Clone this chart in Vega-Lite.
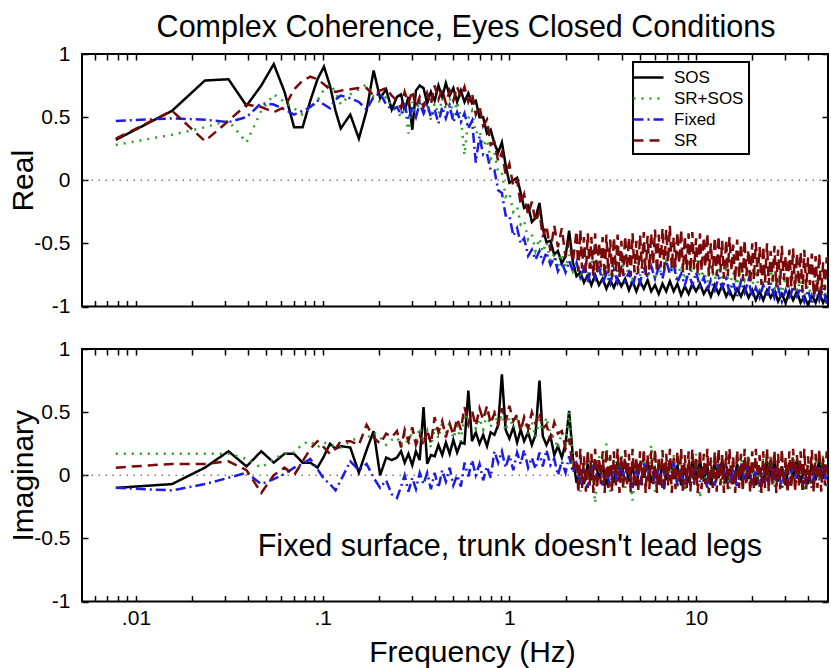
{
  "$schema": "https://vega.github.io/schema/vega-lite/v6.json",
  "background": "white",
  "padding": {"left": 7, "top": 11, "right": 3, "bottom": 4},
  "config": {
    "font": "Liberation Sans",
    "view": {"stroke": "black", "strokeWidth": 2},
    "axis": {
      "grid": false, "domain": false, "tickColor": "black", "tickWidth": 1.5, "tickSize": -6,
      "labelColor": "black", "titleColor": "black", "labelFont": "Liberation Sans", "titleFont": "Liberation Sans",
      "titleFontWeight": "normal", "labelFontSize": 21, "titleFontSize": 30, "labelOverlap": false, "labelFlush": false
    },
    "legend": {
      "orient": "none", "legendX": 551, "legendY": 8, "symbolType": "M-1.67,0H1.67", "symbolSize": 324,
      "symbolStrokeWidth": 2.5, "labelFontSize": 17, "labelFont": "Liberation Sans", "labelColor": "black",
      "strokeColor": "black", "strokeWidth": 2, "padding": 5, "rowPadding": 2, "fillColor": "white", "labelOffset": 15
    }
  },
  "datasets": {
    "re": [
      {"f":0.0078,"a":0.32,"b":0.28,"c":0.47,"d":0.33},
      {"f":0.0156,"a":0.55,"b":0.36,"c":0.49,"d":0.55},
      {"f":0.0234,"a":0.79,"b":0.42,"c":0.48,"d":0.31},
      {"f":0.0313,"a":0.8,"b":0.47,"c":0.46,"d":0.47},
      {"f":0.0391,"a":0.59,"b":0.3,"c":0.5,"d":0.6},
      {"f":0.0469,"a":0.75,"b":0.55,"c":0.61,"d":0.58},
      {"f":0.0547,"a":0.92,"b":0.68,"c":0.6,"d":0.54},
      {"f":0.0625,"a":0.7,"b":0.62,"c":0.56,"d":0.58},
      {"f":0.0703,"a":0.42,"b":0.57,"c":0.52,"d":0.72},
      {"f":0.0781,"a":0.42,"b":0.52,"c":0.55,"d":0.79},
      {"f":0.0859,"a":0.63,"b":0.57,"c":0.58,"d":0.82},
      {"f":0.0938,"a":0.8,"b":0.63,"c":0.63,"d":0.8},
      {"f":0.1016,"a":0.9,"b":0.72,"c":0.6,"d":0.76},
      {"f":0.1094,"a":0.75,"b":0.76,"c":0.57,"d":0.72},
      {"f":0.1172,"a":0.55,"b":0.7,"c":0.64,"d":0.7},
      {"f":0.125,"a":0.41,"b":0.6,"c":0.67,"d":0.71},
      {"f":0.1406,"a":0.52,"b":0.68,"c":0.65,"d":0.72},
      {"f":0.1563,"a":0.33,"b":0.72,"c":0.62,"d":0.73},
      {"f":0.1719,"a":0.55,"b":0.76,"c":0.56,"d":0.73},
      {"f":0.1875,"a":0.87,"b":0.66,"c":0.66,"d":0.67},
      {"f":0.2031,"a":0.65,"b":0.62,"c":0.69,"d":0.71},
      {"f":0.2188,"a":0.72,"b":0.66,"c":0.6,"d":0.73},
      {"f":0.2344,"a":0.56,"b":0.58,"c":0.56,"d":0.67},
      {"f":0.25,"a":0.66,"b":0.55,"c":0.58,"d":0.63},
      {"f":0.263,"a":0.68,"b":0.5,"c":0.52,"d":0.57},
      {"f":0.275,"a":0.55,"b":0.58,"c":0.59,"d":0.7},
      {"f":0.288,"a":0.66,"b":0.37,"c":0.48,"d":0.61},
      {"f":0.302,"a":0.4,"b":0.62,"c":0.58,"d":0.71},
      {"f":0.316,"a":0.71,"b":0.51,"c":0.5,"d":0.58},
      {"f":0.331,"a":0.75,"b":0.64,"c":0.61,"d":0.66},
      {"f":0.347,"a":0.73,"b":0.52,"c":0.53,"d":0.58},
      {"f":0.363,"a":0.61,"b":0.6,"c":0.61,"d":0.69},
      {"f":0.38,"a":0.7,"b":0.48,"c":0.5,"d":0.6},
      {"f":0.398,"a":0.63,"b":0.61,"c":0.56,"d":0.75},
      {"f":0.417,"a":0.75,"b":0.52,"c":0.45,"d":0.64},
      {"f":0.437,"a":0.66,"b":0.65,"c":0.58,"d":0.72},
      {"f":0.457,"a":0.77,"b":0.56,"c":0.49,"d":0.61},
      {"f":0.479,"a":0.67,"b":0.65,"c":0.59,"d":0.71},
      {"f":0.501,"a":0.73,"b":0.52,"c":0.46,"d":0.63},
      {"f":0.525,"a":0.62,"b":0.62,"c":0.54,"d":0.74},
      {"f":0.55,"a":0.71,"b":0.5,"c":0.46,"d":0.66},
      {"f":0.575,"a":0.62,"b":0.2,"c":0.53,"d":0.74},
      {"f":0.603,"a":0.69,"b":0.49,"c":0.41,"d":0.62},
      {"f":0.631,"a":0.61,"b":0.55,"c":0.47,"d":0.69},
      {"f":0.661,"a":0.63,"b":0.37,"c":0.14,"d":0.52},
      {"f":0.692,"a":0.5,"b":0.4,"c":0.35,"d":0.59},
      {"f":0.724,"a":0.5,"b":0.27,"c":0.2,"d":0.43},
      {"f":0.759,"a":0.37,"b":0.32,"c":0.21,"d":0.48},
      {"f":0.794,"a":0.4,"b":0.17,"c":0.08,"d":0.28},
      {"f":0.832,"a":0.29,"b":0.22,"c":0.08,"d":0.3},
      {"f":0.871,"a":0.22,"b":0.06,"c":-0.08,"d":0.15},
      {"f":0.912,"a":0.3,"b":0.06,"c":-0.1,"d":0.22},
      {"f":0.955,"a":0.12,"b":-0.13,"c":-0.28,"d":0.05},
      {"f":1.0,"a":-0.02,"b":-0.1,"c":-0.28,"d":0.13},
      {"f":1.05,"a":0.0,"b":-0.25,"c":-0.44,"d":-0.05},
      {"f":1.1,"a":0.02,"b":-0.21,"c":-0.38,"d":0.0},
      {"f":1.15,"a":-0.1,"b":-0.35,"c":-0.5,"d":-0.19},
      {"f":1.2,"a":-0.22,"b":-0.32,"c":-0.46,"d":-0.11},
      {"f":1.26,"a":-0.2,"b":-0.47,"c":-0.6,"d":-0.27},
      {"f":1.32,"a":-0.33,"b":-0.43,"c":-0.55,"d":-0.17},
      {"f":1.38,"a":-0.3,"b":-0.56,"c":-0.63,"d":-0.33},
      {"f":1.45,"a":-0.18,"b":-0.46,"c":-0.56,"d":-0.25},
      {"f":1.51,"a":-0.38,"b":-0.57,"c":-0.65,"d":-0.45},
      {"f":1.58,"a":-0.49,"b":-0.49,"c":-0.57,"d":-0.36},
      {"f":1.66,"a":-0.48,"b":-0.64,"c":-0.67,"d":-0.56},
      {"f":1.74,"a":-0.59,"b":-0.58,"c":-0.61,"d":-0.36},
      {"f":1.82,"a":-0.56,"b":-0.68,"c":-0.72,"d":-0.53},
      {"f":1.91,"a":-0.66,"b":-0.58,"c":-0.65,"d":-0.38},
      {"f":2.0,"a":-0.6,"b":-0.69,"c":-0.73,"d":-0.61},
      {"f":2.09,"a":-0.4,"b":-0.59,"c":-0.64,"d":-0.48},
      {"f":2.19,"a":-0.65,"b":-0.72,"c":-0.72,"d":-0.65},
      {"f":2.29,"a":-0.76,"b":-0.65,"c":-0.65,"d":-0.4},
      {"f":2.4,"a":-0.73,"b":-0.78,"c":-0.77,"d":-0.39},
      {"f":2.51,"a":-0.81,"b":-0.67,"c":-0.7,"d":-0.45},
      {"f":2.63,"a":-0.75,"b":-0.76,"c":-0.81,"d":-0.42},
      {"f":2.75,"a":-0.83,"b":-0.63,"c":-0.69,"d":-0.45},
      {"f":2.88,"a":-0.75,"b":-0.72,"c":-0.78,"d":-0.42},
      {"f":3.02,"a":-0.83,"b":-0.63,"c":-0.68,"d":-0.49},
      {"f":3.16,"a":-0.78,"b":-0.76,"c":-0.82,"d":-0.45},
      {"f":3.31,"a":-0.86,"b":-0.66,"c":-0.74,"d":-0.43},
      {"f":3.47,"a":-0.79,"b":-0.78,"c":-0.82,"d":-0.47},
      {"f":3.63,"a":-0.85,"b":-0.64,"c":-0.71,"d":-0.45},
      {"f":3.8,"a":-0.78,"b":-0.73,"c":-0.81,"d":-0.43},
      {"f":3.98,"a":-0.84,"b":-0.62,"c":-0.7,"d":-0.48},
      {"f":4.17,"a":-0.78,"b":-0.76,"c":-0.8,"d":-0.44},
      {"f":4.37,"a":-0.87,"b":-0.69,"c":-0.73,"d":-0.45},
      {"f":4.57,"a":-0.8,"b":-0.78,"c":-0.84,"d":-0.42},
      {"f":4.79,"a":-0.88,"b":-0.65,"c":-0.73,"d":-0.48},
      {"f":5.01,"a":-0.8,"b":-0.76,"c":-0.81,"d":-0.43},
      {"f":5.25,"a":-0.86,"b":-0.63,"c":-0.69,"d":-0.41},
      {"f":5.5,"a":-0.79,"b":-0.75,"c":-0.77,"d":-0.44},
      {"f":5.75,"a":-0.88,"b":-0.66,"c":-0.68,"d":-0.42},
      {"f":6.03,"a":-0.83,"b":-0.79,"c":-0.78,"d":-0.39},
      {"f":6.31,"a":-0.9,"b":-0.68,"c":-0.69,"d":-0.43},
      {"f":6.61,"a":-0.82,"b":-0.77,"c":-0.78,"d":-0.38},
      {"f":6.92,"a":-0.88,"b":-0.64,"c":-0.64,"d":-0.39},
      {"f":7.24,"a":-0.8,"b":-0.73,"c":-0.74,"d":-0.36},
      {"f":7.59,"a":-0.88,"b":-0.64,"c":-0.67,"d":-0.45},
      {"f":7.94,"a":-0.82,"b":-0.77,"c":-0.81,"d":-0.41},
      {"f":8.32,"a":-0.91,"b":-0.67,"c":-0.74,"d":-0.39},
      {"f":8.71,"a":-0.84,"b":-0.79,"c":-0.83,"d":-0.44},
      {"f":9.12,"a":-0.9,"b":-0.65,"c":-0.73,"d":-0.42},
      {"f":9.55,"a":-0.82,"b":-0.74,"c":-0.83,"d":-0.41},
      {"f":10.0,"a":-0.88,"b":-0.63,"c":-0.73,"d":-0.46},
      {"f":10.5,"a":-0.82,"b":-0.77,"c":-0.84,"d":-0.42},
      {"f":11.0,"a":-0.9,"b":-0.72,"c":-0.77,"d":-0.45},
      {"f":11.5,"a":-0.85,"b":-0.81,"c":-0.88,"d":-0.42},
      {"f":12.0,"a":-0.92,"b":-0.68,"c":-0.79,"d":-0.5},
      {"f":12.6,"a":-0.83,"b":-0.79,"c":-0.87,"d":-0.45},
      {"f":13.2,"a":-0.9,"b":-0.68,"c":-0.77,"d":-0.44},
      {"f":13.8,"a":-0.83,"b":-0.8,"c":-0.85,"d":-0.48},
      {"f":14.5,"a":-0.92,"b":-0.71,"c":-0.78,"d":-0.47},
      {"f":15.1,"a":-0.87,"b":-0.84,"c":-0.89,"d":-0.45},
      {"f":15.8,"a":-0.94,"b":-0.73,"c":-0.81,"d":-0.51},
      {"f":16.6,"a":-0.86,"b":-0.83,"c":-0.92,"d":-0.47},
      {"f":17.4,"a":-0.92,"b":-0.7,"c":-0.8,"d":-0.5},
      {"f":18.2,"a":-0.85,"b":-0.79,"c":-0.89,"d":-0.47},
      {"f":19.1,"a":-0.93,"b":-0.7,"c":-0.79,"d":-0.55},
      {"f":20.0,"a":-0.87,"b":-0.83,"c":-0.93,"d":-0.5},
      {"f":20.9,"a":-0.95,"b":-0.75,"c":-0.85,"d":-0.49},
      {"f":21.9,"a":-0.88,"b":-0.87,"c":-0.93,"d":-0.53},
      {"f":22.9,"a":-0.95,"b":-0.73,"c":-0.83,"d":-0.52},
      {"f":24.0,"a":-0.87,"b":-0.82,"c":-0.92,"d":-0.5},
      {"f":25.1,"a":-0.93,"b":-0.71,"c":-0.81,"d":-0.56},
      {"f":26.3,"a":-0.87,"b":-0.86,"c":-0.93,"d":-0.52},
      {"f":27.5,"a":-0.96,"b":-0.8,"c":-0.85,"d":-0.55},
      {"f":28.8,"a":-0.9,"b":-0.89,"c":-0.96,"d":-0.52},
      {"f":30.2,"a":-0.97,"b":-0.76,"c":-0.87,"d":-0.6},
      {"f":31.6,"a":-0.88,"b":-0.87,"c":-0.95,"d":-0.55},
      {"f":33.1,"a":-0.95,"b":-0.76,"c":-0.84,"d":-0.54},
      {"f":34.7,"a":-0.88,"b":-0.88,"c":-0.92,"d":-0.58},
      {"f":36.3,"a":-0.97,"b":-0.79,"c":-0.85,"d":-0.57},
      {"f":38.0,"a":-0.92,"b":-0.92,"c":-0.96,"d":-0.55},
      {"f":39.8,"a":-0.99,"b":-0.83,"c":-0.87,"d":-0.61},
      {"f":41.7,"a":-0.91,"b":-0.92,"c":-0.98,"d":-0.58},
      {"f":43.7,"a":-0.97,"b":-0.79,"c":-0.86,"d":-0.6},
      {"f":45.7,"a":-0.89,"b":-0.88,"c":-0.95,"d":-0.58},
      {"f":47.9,"a":-0.97,"b":-0.81,"c":-0.85,"d":-0.65},
      {"f":50.1,"a":-0.91,"b":-0.94,"c":-0.98,"d":-0.61},
      {"f":2.34,"d":-0.72},{"f":2.45,"d":-0.7},{"f":2.57,"d":-0.73},{"f":2.69,"d":-0.7},{"f":2.82,"d":-0.76},
      {"f":2.95,"d":-0.74},{"f":3.09,"d":-0.69},{"f":3.24,"d":-0.77},{"f":3.39,"d":-0.74},{"f":3.55,"d":-0.76},
      {"f":3.72,"d":-0.72},{"f":3.89,"d":-0.77},{"f":4.07,"d":-0.75},{"f":4.27,"d":-0.7},{"f":4.47,"d":-0.76},
      {"f":4.68,"d":-0.73},{"f":4.9,"d":-0.74},{"f":5.13,"d":-0.7},{"f":5.37,"d":-0.75},{"f":5.62,"d":-0.71},
      {"f":5.89,"d":-0.67},{"f":6.17,"d":-0.73},{"f":6.46,"d":-0.69},{"f":6.76,"d":-0.7},{"f":7.08,"d":-0.65},
      {"f":7.41,"d":-0.7},{"f":7.76,"d":-0.69},{"f":8.13,"d":-0.66},{"f":8.51,"d":-0.73},{"f":8.91,"d":-0.71},
      {"f":9.33,"d":-0.73},{"f":9.77,"d":-0.7},{"f":10.2,"d":-0.75},{"f":10.7,"d":-0.72},{"f":11.2,"d":-0.69},
      {"f":11.7,"d":-0.76},{"f":12.3,"d":-0.74},{"f":12.9,"d":-0.76},{"f":13.5,"d":-0.73},{"f":14.1,"d":-0.78},
      {"f":14.8,"d":-0.76},{"f":15.5,"d":-0.72},{"f":16.2,"d":-0.8},{"f":17.0,"d":-0.77},{"f":17.8,"d":-0.8},
      {"f":18.6,"d":-0.76},{"f":19.5,"d":-0.82},{"f":20.4,"d":-0.79},{"f":21.4,"d":-0.76},{"f":22.4,"d":-0.83},
      {"f":23.4,"d":-0.81},{"f":24.5,"d":-0.83},{"f":25.7,"d":-0.8},{"f":26.9,"d":-0.85},{"f":28.2,"d":-0.83},
      {"f":29.5,"d":-0.79},{"f":30.9,"d":-0.87},{"f":32.4,"d":-0.84},{"f":33.9,"d":-0.87},{"f":35.5,"d":-0.83},
      {"f":37.2,"d":-0.89},{"f":38.9,"d":-0.86},{"f":40.7,"d":-0.83},{"f":42.7,"d":-0.91},{"f":44.7,"d":-0.88},
      {"f":46.8,"d":-0.91},{"f":49.0,"d":-0.87}
    ],
    "im": [
      {"f":0.0078,"a":-0.1,"b":0.17,"c":-0.1,"d":0.06},
      {"f":0.0156,"a":-0.07,"b":0.17,"c":-0.12,"d":0.09},
      {"f":0.0234,"a":0.06,"b":0.17,"c":-0.07,"d":0.09},
      {"f":0.0313,"a":0.19,"b":0.17,"c":-0.02,"d":0.11},
      {"f":0.0391,"a":0.07,"b":0.13,"c":0.02,"d":0.04},
      {"f":0.0469,"a":0.19,"b":0.06,"c":-0.07,"d":-0.14},
      {"f":0.0547,"a":0.1,"b":0.13,"c":-0.03,"d":0.0},
      {"f":0.0625,"a":0.17,"b":0.17,"c":0.01,"d":0.06},
      {"f":0.0703,"a":0.17,"b":0.18,"c":0.06,"d":0.0},
      {"f":0.0781,"a":0.1,"b":0.25,"c":0.09,"d":0.11},
      {"f":0.0859,"a":0.1,"b":0.27,"c":0.13,"d":0.21},
      {"f":0.0938,"a":0.06,"b":0.22,"c":0.05,"d":0.27},
      {"f":0.1016,"a":0.15,"b":0.26,"c":-0.03,"d":0.22},
      {"f":0.1094,"a":0.25,"b":0.24,"c":-0.07,"d":0.17},
      {"f":0.1172,"a":0.21,"b":0.23,"c":-0.12,"d":0.21},
      {"f":0.125,"a":0.23,"b":0.22,"c":-0.04,"d":0.27},
      {"f":0.1406,"a":0.22,"b":0.27,"c":0.11,"d":0.27},
      {"f":0.1563,"a":0.02,"b":0.3,"c":0.04,"d":0.24},
      {"f":0.1719,"a":0.2,"b":0.29,"c":0.09,"d":0.4},
      {"f":0.1875,"a":0.35,"b":0.34,"c":-0.02,"d":0.3},
      {"f":0.2031,"a":0.0,"b":0.3,"c":-0.1,"d":0.25},
      {"f":0.2188,"a":0.14,"b":0.24,"c":-0.04,"d":0.33},
      {"f":0.2344,"a":0.12,"b":0.28,"c":-0.15,"d":0.3},
      {"f":0.25,"a":0.14,"b":0.3,"c":-0.18,"d":0.35},
      {"f":0.263,"a":0.19,"b":0.24,"c":-0.09,"d":0.22},
      {"f":0.275,"a":0.1,"b":0.32,"c":0.0,"d":0.36},
      {"f":0.288,"a":0.17,"b":0.23,"c":-0.13,"d":0.27},
      {"f":0.302,"a":0.08,"b":0.36,"c":-0.02,"d":0.38},
      {"f":0.316,"a":0.19,"b":0.25,"c":-0.11,"d":0.24},
      {"f":0.331,"a":0.12,"b":0.38,"c":0.02,"d":0.32},
      {"f":0.347,"a":0.54,"b":0.26,"c":-0.07,"d":0.23},
      {"f":0.363,"a":0.09,"b":0.35,"c":0.02,"d":0.36},
      {"f":0.38,"a":0.16,"b":0.22,"c":-0.11,"d":0.25},
      {"f":0.398,"a":0.15,"b":0.38,"c":0.02,"d":0.46},
      {"f":0.417,"a":0.24,"b":0.29,"c":-0.1,"d":0.34},
      {"f":0.437,"a":0.16,"b":0.42,"c":0.04,"d":0.43},
      {"f":0.457,"a":0.26,"b":0.33,"c":-0.05,"d":0.3},
      {"f":0.479,"a":0.17,"b":0.42,"c":0.06,"d":0.41},
      {"f":0.501,"a":0.28,"b":0.29,"c":-0.08,"d":0.32},
      {"f":0.525,"a":0.18,"b":0.39,"c":0.0,"d":0.45},
      {"f":0.55,"a":0.26,"b":0.27,"c":-0.09,"d":0.36},
      {"f":0.575,"a":0.25,"b":0.49,"c":0.1,"d":0.54},
      {"f":0.603,"a":0.67,"b":0.4,"c":-0.01,"d":0.41},
      {"f":0.631,"a":0.27,"b":0.51,"c":0.12,"d":0.51},
      {"f":0.661,"a":0.34,"b":0.37,"c":0.0,"d":0.39},
      {"f":0.692,"a":0.25,"b":0.45,"c":0.09,"d":0.53},
      {"f":0.724,"a":0.32,"b":0.36,"c":-0.04,"d":0.44},
      {"f":0.759,"a":0.23,"b":0.49,"c":0.07,"d":0.55},
      {"f":0.794,"a":0.34,"b":0.38,"c":-0.02,"d":0.41},
      {"f":0.832,"a":0.32,"b":0.51,"c":0.19,"d":0.49},
      {"f":0.871,"a":0.4,"b":0.39,"c":0.1,"d":0.4},
      {"f":0.912,"a":0.8,"b":0.48,"c":0.19,"d":0.53},
      {"f":0.955,"a":0.36,"b":0.35,"c":0.06,"d":0.42},
      {"f":1.0,"a":0.29,"b":0.46,"c":0.16,"d":0.55},
      {"f":1.05,"a":0.38,"b":0.37,"c":0.04,"d":0.43},
      {"f":1.1,"a":0.26,"b":0.45,"c":0.18,"d":0.48},
      {"f":1.15,"a":0.36,"b":0.36,"c":0.09,"d":0.35},
      {"f":1.2,"a":0.27,"b":0.45,"c":0.2,"d":0.46},
      {"f":1.26,"a":0.34,"b":0.32,"c":0.06,"d":0.37},
      {"f":1.32,"a":0.24,"b":0.42,"c":0.14,"d":0.5},
      {"f":1.38,"a":0.32,"b":0.3,"c":0.05,"d":0.41},
      {"f":1.45,"a":0.75,"b":0.44,"c":0.18,"d":0.5},
      {"f":1.51,"a":0.31,"b":0.35,"c":0.07,"d":0.37},
      {"f":1.58,"a":0.24,"b":0.46,"c":0.2,"d":0.4},
      {"f":1.66,"a":0.31,"b":0.32,"c":0.08,"d":0.28},
      {"f":1.74,"a":0.16,"b":0.3,"c":0.13,"d":0.42},
      {"f":1.82,"a":0.23,"b":0.21,"c":0.0,"d":0.33},
      {"f":1.91,"a":0.14,"b":0.34,"c":0.11,"d":0.35},
      {"f":2.0,"a":0.25,"b":0.23,"c":0.02,"d":0.21},
      {"f":2.09,"a":0.51,"b":0.5,"c":0.15,"d":0.29},
      {"f":2.19,"a":0.14,"b":0.08,"c":0.02,"d":0.05},
      {"f":2.29,"a":-0.06,"b":0.11,"c":0.09,"d":0.19},
      {"f":2.4,"a":0.05,"b":-0.13,"c":-0.07,"d":0.21},
      {"f":2.51,"a":-0.07,"b":0.08,"c":0.05,"d":0.15},
      {"f":2.63,"a":0.09,"b":-0.09,"c":-0.1,"d":0.2},
      {"f":2.75,"a":-0.04,"b":0.15,"c":0.08,"d":0.17},
      {"f":2.88,"a":0.12,"b":-0.22,"c":-0.04,"d":0.21},
      {"f":3.02,"a":-0.03,"b":0.16,"c":0.1,"d":0.14},
      {"f":3.16,"a":0.08,"b":-0.09,"c":-0.08,"d":0.19},
      {"f":3.31,"a":-0.08,"b":0.25,"c":0.03,"d":0.21},
      {"f":3.47,"a":0.06,"b":-0.13,"c":-0.09,"d":0.16},
      {"f":3.63,"a":-0.06,"b":0.14,"c":0.07,"d":0.19},
      {"f":3.8,"a":0.11,"b":-0.04,"c":-0.06,"d":0.21},
      {"f":3.98,"a":-0.01,"b":0.17,"c":0.1,"d":0.15},
      {"f":4.17,"a":0.11,"b":-0.1,"c":-0.05,"d":0.2},
      {"f":4.37,"a":-0.05,"b":0.07,"c":0.06,"d":0.17},
      {"f":4.57,"a":0.07,"b":-0.2,"c":-0.1,"d":0.21},
      {"f":4.79,"a":-0.08,"b":0.13,"c":0.04,"d":0.14},
      {"f":5.01,"a":0.1,"b":-0.07,"c":-0.08,"d":0.19},
      {"f":5.25,"a":-0.02,"b":0.16,"c":0.09,"d":0.21},
      {"f":5.5,"a":0.12,"b":-0.06,"c":-0.03,"d":0.16},
      {"f":5.75,"a":-0.06,"b":0.24,"c":0.09,"d":0.19},
      {"f":6.03,"a":0.05,"b":-0.13,"c":-0.07,"d":0.21},
      {"f":6.31,"a":-0.07,"b":0.08,"c":0.05,"d":0.15},
      {"f":6.61,"a":0.09,"b":-0.09,"c":-0.1,"d":0.2},
      {"f":6.92,"a":-0.04,"b":0.15,"c":0.08,"d":0.17},
      {"f":7.24,"a":0.12,"b":-0.03,"c":-0.04,"d":0.21},
      {"f":7.59,"a":-0.03,"b":0.16,"c":0.1,"d":0.14},
      {"f":7.94,"a":0.08,"b":-0.09,"c":-0.08,"d":0.19},
      {"f":8.32,"a":-0.08,"b":0.1,"c":0.03,"d":0.21},
      {"f":8.71,"a":0.06,"b":-0.13,"c":-0.09,"d":0.16},
      {"f":9.12,"a":-0.06,"b":0.14,"c":0.07,"d":0.19},
      {"f":9.55,"a":0.11,"b":-0.04,"c":-0.06,"d":0.21},
      {"f":10.0,"a":-0.01,"b":0.17,"c":0.1,"d":0.15},
      {"f":10.5,"a":0.11,"b":-0.18,"c":-0.05,"d":0.2},
      {"f":11.0,"a":-0.05,"b":0.07,"c":0.06,"d":0.17},
      {"f":11.5,"a":0.07,"b":-0.12,"c":-0.1,"d":0.21},
      {"f":12.0,"a":-0.08,"b":0.13,"c":0.04,"d":0.14},
      {"f":12.6,"a":0.1,"b":-0.07,"c":-0.08,"d":0.19},
      {"f":13.2,"a":-0.02,"b":0.16,"c":0.09,"d":0.21},
      {"f":13.8,"a":0.12,"b":-0.06,"c":-0.03,"d":0.16},
      {"f":14.5,"a":-0.06,"b":0.11,"c":0.09,"d":0.19},
      {"f":15.1,"a":0.05,"b":-0.13,"c":-0.07,"d":0.21},
      {"f":15.8,"a":-0.07,"b":0.08,"c":0.05,"d":0.15},
      {"f":16.6,"a":0.09,"b":-0.09,"c":-0.1,"d":0.2},
      {"f":17.4,"a":-0.04,"b":0.15,"c":0.08,"d":0.17},
      {"f":18.2,"a":0.12,"b":-0.03,"c":-0.04,"d":0.21},
      {"f":19.1,"a":-0.03,"b":0.16,"c":0.1,"d":0.14},
      {"f":20.0,"a":0.08,"b":-0.09,"c":-0.08,"d":0.19},
      {"f":20.9,"a":-0.08,"b":0.1,"c":0.03,"d":0.21},
      {"f":21.9,"a":0.06,"b":-0.13,"c":-0.09,"d":0.16},
      {"f":22.9,"a":-0.06,"b":0.14,"c":0.07,"d":0.19},
      {"f":24.0,"a":0.11,"b":-0.04,"c":-0.06,"d":0.21},
      {"f":25.1,"a":-0.01,"b":0.17,"c":0.1,"d":0.15},
      {"f":26.3,"a":0.11,"b":-0.1,"c":-0.05,"d":0.2},
      {"f":27.5,"a":-0.05,"b":0.07,"c":0.06,"d":0.17},
      {"f":28.8,"a":0.07,"b":-0.12,"c":-0.1,"d":0.21},
      {"f":30.2,"a":-0.08,"b":0.13,"c":0.04,"d":0.14},
      {"f":31.6,"a":0.1,"b":-0.07,"c":-0.08,"d":0.19},
      {"f":33.1,"a":-0.02,"b":0.16,"c":0.09,"d":0.21},
      {"f":34.7,"a":0.12,"b":-0.06,"c":-0.03,"d":0.16},
      {"f":36.3,"a":-0.06,"b":0.11,"c":0.09,"d":0.19},
      {"f":38.0,"a":0.05,"b":-0.13,"c":-0.07,"d":0.21},
      {"f":39.8,"a":-0.07,"b":0.08,"c":0.05,"d":0.15},
      {"f":41.7,"a":0.09,"b":-0.09,"c":-0.1,"d":0.2},
      {"f":43.7,"a":-0.04,"b":0.15,"c":0.08,"d":0.17},
      {"f":45.7,"a":0.12,"b":-0.03,"c":-0.04,"d":0.21},
      {"f":47.9,"a":-0.03,"b":0.16,"c":0.1,"d":0.14},
      {"f":50.1,"a":0.08,"b":-0.09,"c":-0.08,"d":0.19},
      {"f":2.34,"d":-0.14},{"f":2.45,"d":-0.1},{"f":2.57,"d":-0.13},{"f":2.69,"d":-0.08},{"f":2.82,"d":-0.14},
      {"f":2.95,"d":-0.11},{"f":3.09,"d":-0.07},{"f":3.24,"d":-0.14},{"f":3.39,"d":-0.1},{"f":3.55,"d":-0.13},
      {"f":3.72,"d":-0.08},{"f":3.89,"d":-0.14},{"f":4.07,"d":-0.11},{"f":4.27,"d":-0.07},{"f":4.47,"d":-0.14},
      {"f":4.68,"d":-0.1},{"f":4.9,"d":-0.13},{"f":5.13,"d":-0.08},{"f":5.37,"d":-0.14},{"f":5.62,"d":-0.11},
      {"f":5.89,"d":-0.07},{"f":6.17,"d":-0.14},{"f":6.46,"d":-0.1},{"f":6.76,"d":-0.13},{"f":7.08,"d":-0.08},
      {"f":7.41,"d":-0.14},{"f":7.76,"d":-0.11},{"f":8.13,"d":-0.07},{"f":8.51,"d":-0.14},{"f":8.91,"d":-0.1},
      {"f":9.33,"d":-0.13},{"f":9.77,"d":-0.08},{"f":10.2,"d":-0.14},{"f":10.7,"d":-0.11},{"f":11.2,"d":-0.07},
      {"f":11.7,"d":-0.14},{"f":12.3,"d":-0.1},{"f":12.9,"d":-0.13},{"f":13.5,"d":-0.08},{"f":14.1,"d":-0.14},
      {"f":14.8,"d":-0.11},{"f":15.5,"d":-0.07},{"f":16.2,"d":-0.14},{"f":17.0,"d":-0.1},{"f":17.8,"d":-0.13},
      {"f":18.6,"d":-0.08},{"f":19.5,"d":-0.14},{"f":20.4,"d":-0.11},{"f":21.4,"d":-0.07},{"f":22.4,"d":-0.14},
      {"f":23.4,"d":-0.1},{"f":24.5,"d":-0.13},{"f":25.7,"d":-0.08},{"f":26.9,"d":-0.14},{"f":28.2,"d":-0.11},
      {"f":29.5,"d":-0.07},{"f":30.9,"d":-0.14},{"f":32.4,"d":-0.1},{"f":33.9,"d":-0.13},{"f":35.5,"d":-0.08},
      {"f":37.2,"d":-0.14},{"f":38.9,"d":-0.11},{"f":40.7,"d":-0.07},{"f":42.7,"d":-0.14},{"f":44.7,"d":-0.1},
      {"f":46.8,"d":-0.13},{"f":49.0,"d":-0.08}
    ]
  },
  "vconcat": [
    {
      "width": 746,
      "height": 252.5,
      "title": {"text": "Complex Coherence, Eyes Closed Conditions", "fontSize": 30.5, "fontWeight": "normal", "font": "Liberation Sans", "color": "black", "anchor": "middle", "frame": "group", "dx": 11, "offset": 0},
      "layer": [
        {
          "data": {"name": "re"},
          "mark": {"type": "point", "opacity": 0},
          "encoding": {
            "x": {"field": "f", "type": "quantitative", "scale": {"type": "log", "domain": [0.00514, 50.9], "nice": false},
                  "axis": {"orient": "top", "labels": false, "title": null, "values": [0.006,0.007,0.008,0.009,0.01,0.02,0.03,0.04,0.05,0.06,0.07,0.08,0.09,0.1,0.2,0.3,0.4,0.5,0.6,0.7,0.8,0.9,1,2,3,4,5,6,7,8,9,10,20,30,40]}},
            "y": {"field": "d", "type": "quantitative", "scale": {"domain": [-1, 1], "nice": false},
                  "axis": {"orient": "right", "labels": false, "title": null, "values": [-1, -0.5, 0, 0.5, 1]}}
          }
        },
        {
          "data": {"values": [{}]},
          "mark": {"type": "rule", "color": "#7a7a7a", "strokeDash": [1.5, 5.5], "strokeWidth": 1.5},
          "encoding": {"y": {"datum": 0, "type": "quantitative", "axis": null}}
        },
        {
          "data": {"name": "re"},
          "transform": [{"fold": ["a", "b", "c", "d"], "as": ["series", "v"]}, {"filter": "isValid(datum.v)"}],
          "mark": {"type": "line", "strokeWidth": 2.5, "clip": true},
          "encoding": {
            "x": {"field": "f", "type": "quantitative",
                  "axis": {"orient": "bottom", "labels": false, "title": null, "values": [0.006,0.007,0.008,0.009,0.01,0.02,0.03,0.04,0.05,0.06,0.07,0.08,0.09,0.1,0.2,0.3,0.4,0.5,0.6,0.7,0.8,0.9,1,2,3,4,5,6,7,8,9,10,20,30,40]}},
            "y": {"field": "v", "type": "quantitative",
                  "axis": {"orient": "left", "title": "Real", "titlePadding": -5, "labelPadding": 18, "values": [-1, -0.5, 0, 0.5, 1],
                           "labelExpr": "datum.value == 1 ? '1' : datum.value == 0.5 ? '0.5' : datum.value == 0 ? '0' : datum.value == -0.5 ? '-0.5' : '-1'"}},
            "color": {"field": "series", "type": "nominal", "scale": {"domain": ["a", "b", "c", "d"], "range": ["#000000", "#2ca02c", "#1c1ce6", "#7a0a0a"]},
                      "legend": {"title": null, "labelFontSize": 17, "labelOffset": 15, "padding": 5, "rowPadding": 2, "symbolSize": 324,
                                 "labelExpr": "datum.label == 'a' ? 'SOS' : datum.label == 'b' ? 'SR+SOS' : datum.label == 'c' ? 'Fixed' : 'SR'"}},
            "strokeDash": {"field": "series", "type": "nominal", "scale": {"domain": ["a", "b", "c", "d"], "range": [[1, 0], [2, 6], [10, 4, 2, 4], [10, 6]]},
                      "legend": {"title": null, "labelFontSize": 17, "labelOffset": 15, "padding": 5, "rowPadding": 2, "symbolSize": 324,
                                 "labelExpr": "datum.label == 'a' ? 'SOS' : datum.label == 'b' ? 'SR+SOS' : datum.label == 'c' ? 'Fixed' : 'SR'"}}
          }
        }
      ],
      "resolve": {"axis": {"x": "independent", "y": "independent"}}
    },
    {
      "width": 746,
      "height": 252.5,
      "layer": [
        {
          "data": {"name": "im"},
          "mark": {"type": "point", "opacity": 0},
          "encoding": {
            "x": {"field": "f", "type": "quantitative", "scale": {"type": "log", "domain": [0.00514, 50.9], "nice": false},
                  "axis": {"orient": "top", "labels": false, "title": null, "values": [0.006,0.007,0.008,0.009,0.01,0.02,0.03,0.04,0.05,0.06,0.07,0.08,0.09,0.1,0.2,0.3,0.4,0.5,0.6,0.7,0.8,0.9,1,2,3,4,5,6,7,8,9,10,20,30,40]}},
            "y": {"field": "d", "type": "quantitative", "scale": {"domain": [-1, 1], "nice": false},
                  "axis": {"orient": "right", "labels": false, "title": null, "values": [-1, -0.5, 0, 0.5, 1]}}
          }
        },
        {
          "data": {"values": [{}]},
          "mark": {"type": "rule", "color": "#7a7a7a", "strokeDash": [1.5, 5.5], "strokeWidth": 1.5},
          "encoding": {"y": {"datum": 0, "type": "quantitative", "axis": null}}
        },
        {
          "data": {"name": "im"},
          "transform": [{"fold": ["a", "b", "c", "d"], "as": ["series", "v"]}, {"filter": "isValid(datum.v)"}],
          "mark": {"type": "line", "strokeWidth": 2.5, "clip": true},
          "encoding": {
            "x": {"field": "f", "type": "quantitative",
                  "axis": {"orient": "bottom", "title": "Frequency (Hz)", "labelPadding": 12, "values": [0.006,0.007,0.008,0.009,0.01,0.02,0.03,0.04,0.05,0.06,0.07,0.08,0.09,0.1,0.2,0.3,0.4,0.5,0.6,0.7,0.8,0.9,1,2,3,4,5,6,7,8,9,10,20,30,40],
                           "labelExpr": "datum.value == 0.01 ? '.01' : datum.value == 0.1 ? '.1' : datum.value == 1 ? '1' : datum.value == 10 ? '10' : ''",
                           "titleX": 390, "titleY": 60, "titleBaseline": "alphabetic", "titleAlign": "center"}},
            "y": {"field": "v", "type": "quantitative",
                  "axis": {"orient": "left", "title": "Imaginary", "titlePadding": -5, "labelPadding": 18, "values": [-1, -0.5, 0, 0.5, 1],
                           "labelExpr": "datum.value == 1 ? '1' : datum.value == 0.5 ? '0.5' : datum.value == 0 ? '0' : datum.value == -0.5 ? '-0.5' : '-1'"}},
            "color": {"field": "series", "type": "nominal", "scale": {"domain": ["a", "b", "c", "d"], "range": ["#000000", "#2ca02c", "#1c1ce6", "#7a0a0a"]},
                      "legend": {"title": null, "labelFontSize": 17, "labelOffset": 15, "padding": 5, "rowPadding": 2, "symbolSize": 324,
                                 "labelExpr": "datum.label == 'a' ? 'SOS' : datum.label == 'b' ? 'SR+SOS' : datum.label == 'c' ? 'Fixed' : 'SR'"}},
            "strokeDash": {"field": "series", "type": "nominal", "scale": {"domain": ["a", "b", "c", "d"], "range": [[1, 0], [2, 6], [10, 4, 2, 4], [10, 6]]},
                      "legend": {"title": null, "labelFontSize": 17, "labelOffset": 15, "padding": 5, "rowPadding": 2, "symbolSize": 324,
                                 "labelExpr": "datum.label == 'a' ? 'SOS' : datum.label == 'b' ? 'SR+SOS' : datum.label == 'c' ? 'Fixed' : 'SR'"}}
          }
        },
        {
          "data": {"values": [{"f": 0.0449, "v": -0.64, "t": "Fixed surface, trunk doesn't lead legs"}]},
          "mark": {"type": "text", "align": "left", "baseline": "alphabetic", "fontSize": 30.5, "font": "Liberation Sans", "color": "black"},
          "encoding": {
            "x": {"field": "f", "type": "quantitative", "axis": null},
            "y": {"field": "v", "type": "quantitative", "axis": null},
            "text": {"field": "t"}
          }
        }
      ],
      "resolve": {"axis": {"x": "independent", "y": "independent"}}
    }
  ],
  "spacing": 42,
  "bounds": "flush",
  "resolve": {"scale": {"color": "shared", "strokeDash": "shared"}}
}
